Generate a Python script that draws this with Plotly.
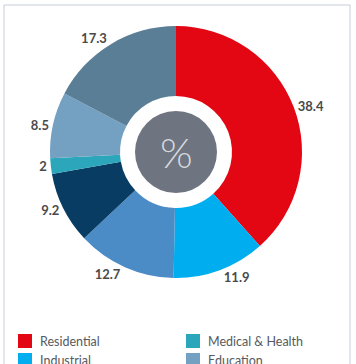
import plotly.graph_objects as go

# ---- data ----
labels = ["Residential", "Industrial", "Commercial", "Infrastructure",
          "Medical & Health", "Education", "Other"]
values = [38.4, 11.9, 12.7, 9.2, 2, 8.5, 17.3]
colors = ["#E30613", "#00AEEF", "#4B8BC6", "#083C63",
          "#2BA6BA", "#74A0C1", "#5B7E97"]
center_text = "%"

W, H = 356, 364
cx, cy, R = 176, 152, 126   # pixels from top-left
hole_r, inner_r = 56, 41

def px(x):
    return x / W

def py(y):
    return (H - y) / H

fig = go.Figure()
fig.add_trace(go.Pie(
    labels=labels,
    values=values,
    sort=False,
    direction="clockwise",
    rotation=0,
    hole=hole_r / R,
    marker=dict(colors=colors, line=dict(width=0)),
    textinfo="value",
    textposition="outside",
    texttemplate="%{value}",
    outsidetextfont=dict(family="Lato", size=13, color="#4a4a4a", weight=700),
    showlegend=False,
    hoverinfo="label+value",
    domain=dict(x=[px(cx - R), px(cx + R)], y=[py(cy + R), py(cy - R)]),
))

frame = dict(color="#c6ccd5", width=1)
shapes = [
    # outer frame (open at the bottom, which is out of view)
    dict(type="path", xref="paper", yref="paper", layer="above",
         path=f"M {px(4)},{py(364)} L {px(4)},{py(5)} L {px(350)},{py(5)} L {px(350)},{py(364)}",
         line=frame, fillcolor="rgba(0,0,0,0)"),
    # center disc
    dict(type="circle", xref="paper", yref="paper",
         x0=px(cx - inner_r), x1=px(cx + inner_r),
         y0=py(cy + inner_r), y1=py(cy - inner_r),
         line=dict(width=0), fillcolor="#6E7480"),
]
annotations = [
    dict(text=center_text, x=px(cx), y=py(cy), xref="paper", yref="paper",
         showarrow=False, xanchor="center", yanchor="middle",
         font=dict(family="Lato", size=42, color="#d6d9de", weight=300)),
]

# manual legend (column-wise, two columns)
col_x = [18, 186]
row_y0, row_dy, box = 341, 19, 14
n_first = 4
for i, (lab, col) in enumerate(zip(labels, colors)):
    c = 0 if i < n_first else 1
    r = i if i < n_first else i - n_first
    x = col_x[c]
    y = row_y0 + r * row_dy
    shapes.append(dict(type="rect", xref="paper", yref="paper",
                       x0=px(x), x1=px(x + box),
                       y0=py(y + box / 2), y1=py(y - box / 2),
                       line=dict(width=0), fillcolor=col))
    annotations.append(dict(text=lab, x=px(x + box + 6), y=py(y + 0.5),
                            xref="paper", yref="paper", showarrow=False,
                            xanchor="left", yanchor="middle",
                            font=dict(family="Lato", size=12.5, color="#555a60")))

fig.update_layout(
    width=W, height=H,
    margin=dict(l=0, r=0, t=0, b=0),
    paper_bgcolor="white", plot_bgcolor="white",
    shapes=shapes, annotations=annotations,
    showlegend=False,
)

fig.write_html(
    "out.html",
    config={"displayModeBar": False},
    post_script="document.body.style.margin='0px';"
                "document.body.style.overflow='hidden';",
)
